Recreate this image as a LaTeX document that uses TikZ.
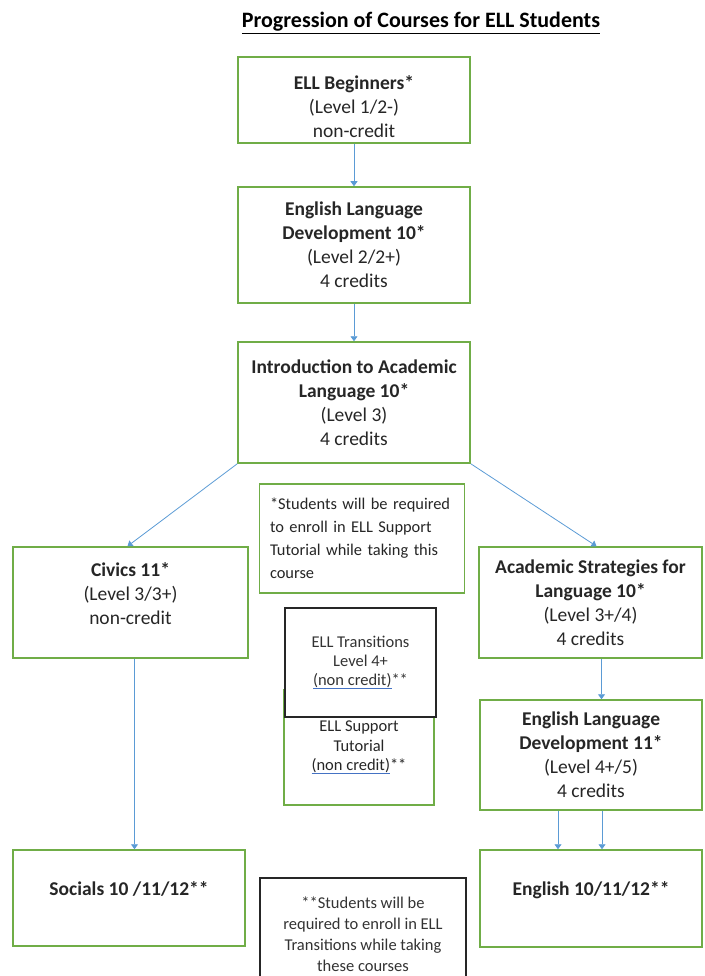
\documentclass[tikz,border=0pt]{standalone}
\usepackage{fontspec}
\setmainfont{Carlito}
\usetikzlibrary{arrows.meta}
\definecolor{boxgreen}{RGB}{112,173,71}
\definecolor{arrowblue}{RGB}{91,155,213}
\definecolor{ulblue}{RGB}{68,114,196}
\newcommand{\blueul}[1]{\setbox0\hbox{#1}\rlap{\color{ulblue}\raisebox{-3.5pt}{\rule{\wd0}{1.3pt}}}\box0}

\begin{document}
\begin{tikzpicture}[x=1pt,y=-1pt,
    course/.style={draw=boxgreen, line width=1.5pt, fill=white, align=center, text=black!85, font=\fontsize{19.5}{24}\selectfont},
    note/.style={draw=black!85, line width=1.5pt, fill=white, align=center, text=black!80},
    lift/.style={text depth=#1},
    flow/.style={draw=arrowblue, line width=0.8pt, -{Triangle[width=7pt,length=5pt]}}]
        \useasboundingbox (0,0) rectangle (704,976);

        %title
        \node[font=\fontsize{22}{26}\selectfont\bfseries] (title) at (421,23) {\underline{Progression of Courses for ELL Students}};

        %main column
        \node[course, minimum width=232pt, minimum height=86pt] (beg) at (354,100) {\rule{0pt}{27pt}\textbf{ELL Beginners*}\\(Level 1/2-)\\non-credit};
        \node[course, minimum width=232pt, minimum height=116pt] (eld10) at (354,245) {\textbf{English Language}\\\textbf{Development 10*}\\(Level 2/2+)\\4 credits};
        \node[course, minimum width=232pt, minimum height=121pt] (intro) at (354,402.5) {\textbf{Introduction to Academic}\\\textbf{Language 10*}\\(Level 3)\\4 credits};

        %left branch
        \node[course, lift=18pt, minimum width=235pt, minimum height=111pt] (civ) at (130.5,602.5) {\textbf{Civics 11*}\\(Level 3/3+)\\non-credit};
        \node[course, lift=19pt, minimum width=232pt, minimum height=96pt] (soc) at (129,898) {\textbf{Socials 10 /11/12**}};

        %right branch
        \node[course, minimum width=223pt, minimum height=111pt] (asl) at (590.5,602.5) {\textbf{Academic Strategies for}\\\textbf{Language 10*}\\(Level 3+/4)\\4 credits};
        \node[course, minimum width=222pt, minimum height=110pt] (eld11) at (591,755) {\textbf{English Language}\\\textbf{Development 11*}\\(Level 4+/5)\\4 credits};
        \node[course, lift=19pt, minimum width=222pt, minimum height=97pt] (eng) at (591,898.5) {\textbf{English 10/11/12**}};

        %notes in the middle
        \node[course, align=left, text width=184pt, minimum width=205pt, minimum height=109pt, font=\fontsize{16.4}{23}\selectfont] (suptxt) at (362,538.5) {*Students will be required\\to enroll in ELL Support\\Tutorial while taking this\\course};
        \node[course, minimum width=150pt, minimum height=115pt, font=\fontsize{16.5}{19.5}\selectfont] (sup) at (359,747.5) {ELL Support\\Tutorial\\\blueul{(non credit)}**};
        \node[note, minimum width=151pt, minimum height=109pt, font=\fontsize{16.5}{19}\selectfont] (trn) at (360.5,662.5) {ELL Transitions\\Level 4+\\\blueul{(non credit)}**};
        \node[note, minimum width=206pt, minimum height=112pt, font=\fontsize{16.5}{21}\selectfont] (trntxt) at (363,934) {**Students will be\\required to enroll in ELL\\Transitions while taking\\these courses};

        %arrows
        \draw[flow] (beg) -- (eld10);
        \draw[flow] (eld10) -- (intro);
        \draw[flow] (intro.south west) -- ([xshift=-3pt]civ.north);
        \draw[flow] (intro.south east) -- ([xshift=6pt]asl.north);
        \draw[flow] ([xshift=4pt]civ.south) -- ([xshift=4pt]civ.south |- soc.north);
        \draw[flow] ([xshift=11pt]asl.south) -- ([xshift=11pt]asl.south |- eld11.north);
        \draw[flow] ([xshift=-33pt]eld11.south) -- ([xshift=-33pt]eld11.south |- eng.north);
        \draw[flow] ([xshift=11pt]eld11.south) -- ([xshift=11pt]eld11.south |- eng.north);
    \end{tikzpicture}
\end{document}
